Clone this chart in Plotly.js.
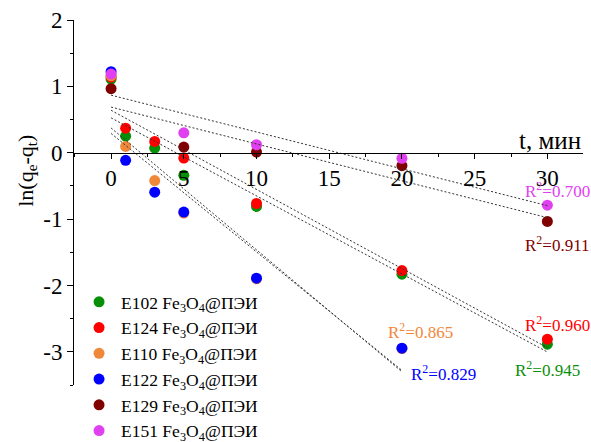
<!DOCTYPE html>
<html>
<head>
<meta charset="utf-8">
<script src="https://cdn.plot.ly/plotly-3.0.1.min.js"></script>
<style>
  html, body { margin: 0; padding: 0; background: #fff; }
  #chart { width: 591px; height: 442px; }
</style>
</head>
<body>
<div id="chart"></div>
<script>
// Pseudo-first-order kinetics: ln(qe - qt) versus time, six sorbents
const seriesNames = ['E102', 'E124', 'E110', 'E122', 'E129', 'E151'];
const seriesColors = ['#078f07', '#ff0000', '#f0883a', '#0000ff', '#800000', '#e040f0'];

const tGreen   = [0, 1, 3, 5, 10, 20, 30];
const lnGreen  = [1.11, 0.25, 0.07, -0.34, -0.81, -1.83, -2.885];
const tRed     = [0, 1, 3, 5, 10, 20, 30];
const lnRed    = [1.14, 0.37, 0.17, -0.08, -0.765, -1.775, -2.81];
const tOrange  = [0, 1, 3, 5, 10, 20];
const lnOrange = [1.16, 0.095, -0.42, -0.91, -1.90, -2.95];
const tBlue    = [0, 1, 3, 5, 10, 20];
const lnBlue   = [1.22, -0.115, -0.595, -0.895, -1.89, -2.945];
const tDark    = [0, 5, 10, 20, 30];
const lnDark   = [0.965, 0.085, 0.01, -0.195, -1.035];
const tViolet  = [0, 5, 10, 20, 30];
const lnViolet = [1.185, 0.30, 0.12, -0.085, -0.79];

const rSquared = ['0.945', '0.960', '0.865', '0.829', '0.911', '0.700'];
// label anchor (left edge, middle) in data units
const rLabelX = [27.67, 28.35, 18.9, 20.51, 28.35, 28.35];
const rLabelY = [-3.255, -2.577, -2.693, -3.32, -1.371, -0.568];

const xTickVals = [0, 5, 10, 15, 20, 25, 30];
const yTickVals = [-3, -2, -1, 0, 1, 2];
const yTickText = ['-3', '-2', '-1', '0', '1', '2'];

const tData = [tGreen, tRed, tOrange, tBlue, tDark, tViolet];
const lnData = [lnGreen, lnRed, lnOrange, lnBlue, lnDark, lnViolet];

const serif = 'Liberation Serif, Times New Roman, serif';

// ordinary least squares fit
function linFit(xs, ys) {
  const n = xs.length;
  const mx = xs.reduce((a, b) => a + b, 0) / n;
  const my = ys.reduce((a, b) => a + b, 0) / n;
  let sxy = 0, sxx = 0;
  for (let i = 0; i < n; i++) {
    sxy += (xs[i] - mx) * (ys[i] - my);
    sxx += (xs[i] - mx) * (xs[i] - mx);
  }
  const slope = sxy / sxx;
  return { slope: slope, intercept: my - slope * mx };
}

const traces = [];
tData.forEach((xs, i) => {
  traces.push({
    type: 'scatter', mode: 'markers',
    x: xs, y: lnData[i],
    name: seriesNames[i] + ' Fe<sub>3</sub>O<sub>4</sub>@ПЭИ',
    legendgroup: 'g' + i,
    marker: { color: seriesColors[i], size: 11, line: { width: 0 } },
    hoverinfo: 'skip'
  });
});
tData.forEach((xs, i) => {
  const f = linFit(xs, lnData[i]);
  const x0 = Math.min(...xs), x1 = Math.max(...xs);
  traces.push({
    type: 'scatter', mode: 'lines',
    x: [x0, x1], y: [f.intercept + f.slope * x0, f.intercept + f.slope * x1],
    line: { color: '#333333', width: 1, dash: '2px,2px' },
    showlegend: false, hoverinfo: 'skip'
  });
});

const annotations = rSquared.map((r, i) => ({
  xref: 'x', yref: 'y', x: rLabelX[i], y: rLabelY[i],
  xanchor: 'left', yanchor: 'middle', showarrow: false,
  text: 'R<sup>2</sup>=' + r,
  font: { family: serif, size: 17, color: seriesColors[i] }
}));
annotations.push({
  xref: 'paper', yref: 'y', x: 1, y: 0.19, xanchor: 'right', yanchor: 'middle',
  showarrow: false, text: 't, мин',
  font: { family: serif, size: 25, color: '#000' }
});
annotations.push({
  xref: 'paper', yref: 'y', x: -0.094, y: -0.27, xanchor: 'center', yanchor: 'middle',
  showarrow: false, textangle: -90, text: 'ln(q<sub>e</sub>-q<sub>t</sub>)',
  font: { family: serif, size: 22, color: '#000' }
});

const layout = {
  width: 591, height: 442,
  margin: { l: 74, r: 8, t: 20, b: 57, autoexpand: false },
  paper_bgcolor: '#fff', plot_bgcolor: '#fff',
  font: { family: serif, color: '#000' },
  showlegend: true,
  legend: {
    x: 0.006, y: 0.277, xanchor: 'left', yanchor: 'top',
    bgcolor: 'rgba(0,0,0,0)', borderwidth: 0,
    font: { family: serif, size: 17.5, color: '#000' },
    tracegroupgap: 0,
    itemwidth: 34
  },
  xaxis: {
    range: [-2.55, 32.45], anchor: 'free', position: 3.5 / 5.5,
    showline: true, linecolor: '#000', linewidth: 1,
    showgrid: false, zeroline: false,
    tickmode: 'array', tickvals: xTickVals,
    ticks: 'outside', ticklen: 5, tickwidth: 1, tickcolor: '#000',
    tickfont: { family: serif, size: 23, color: '#000' },
    minor: { tickmode: 'linear', tick0: 0, dtick: 2.5, ticks: 'outside', ticklen: 3, tickcolor: '#000', showgrid: false }
  },
  yaxis: {
    range: [-3.5, 2],
    showline: true, linecolor: '#000', linewidth: 1,
    showgrid: false, zeroline: false,
    tickmode: 'array', tickvals: yTickVals, ticktext: yTickText,
    ticks: 'outside', ticklen: 6, tickwidth: 1, tickcolor: '#000',
    tickfont: { family: serif, size: 23, color: '#000' },
    minor: { tickmode: 'linear', tick0: 0, dtick: 0.5, ticks: 'outside', ticklen: 3, tickcolor: '#000', showgrid: false }
  },
  annotations: annotations
};

Plotly.newPlot('chart', traces, layout, { staticPlot: true, displayModeBar: false });
</script>
</body>
</html>
